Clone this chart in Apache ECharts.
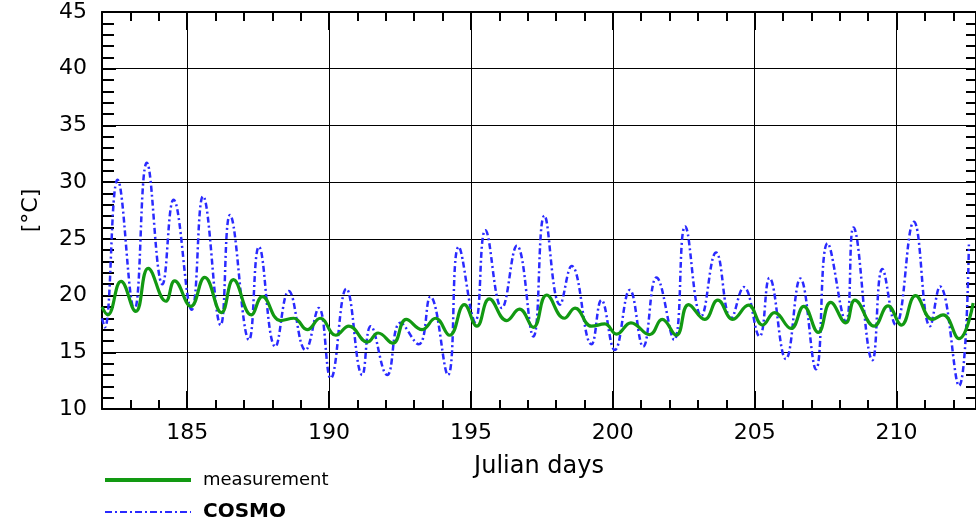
<!DOCTYPE html>
<html>
<head>
<meta charset="utf-8">
<title>measurement vs COSMO</title>
<script src="https://cdn.jsdelivr.net/npm/echarts@6/dist/echarts.min.js"></script>
<style>
  html, body { margin: 0; padding: 0; background: #fff; }
  #chart { width: 976px; height: 528px; }
</style>
</head>
<body>
<div id="chart"></div>
<script>
// measurement (green), read at the daily highs and lows
const measDays = [182.0, 182.2, 182.67, 183.19, 183.63, 184.25, 184.56, 185.13, 185.62, 186.21, 186.63, 187.26, 187.65,
  188.29, 188.76, 189.23, 189.69, 190.24, 190.7, 191.35, 191.73, 192.25, 192.72, 193.28, 193.75, 194.25, 194.77,
  195.21, 195.65, 196.26, 196.71, 197.2, 197.67, 198.29, 198.67, 199.25, 199.72, 200.13, 200.64, 201.3, 201.74,
  202.24, 202.67, 203.24, 203.7, 204.23, 204.78, 205.28, 205.7, 206.28, 206.73, 207.24, 207.68, 208.21, 208.53,
  209.21, 209.7, 210.17, 210.67, 211.26, 211.64, 212.2, 212.7]
const measTemp = [19.0, 18.3, 21.25, 18.6, 22.4, 19.5, 21.3, 19.05, 21.6, 18.5, 21.4, 18.3, 19.9,
  17.8, 18.0, 17.0, 18.0, 16.5, 17.3, 15.9, 16.7, 15.8, 17.9, 17.0, 18.0, 16.5, 19.2,
  17.3, 19.7, 17.8, 18.8, 17.2, 20.05, 18.0, 18.9, 17.3, 17.5, 16.6, 17.6, 16.55, 17.9,
  16.5, 19.2, 17.9, 19.6, 17.9, 19.15, 17.4, 18.5, 17.1, 19.05, 16.75, 19.4, 17.6, 19.6,
  17.3, 19.1, 17.4, 20.0, 17.9, 18.3, 16.2, 19.35]

// COSMO model (blue dash-dot)
const cosmoDays = [182.0, 182.1, 182.55, 183.14, 183.58, 184.13, 184.52, 185.16, 185.56, 186.18, 186.51, 187.18, 187.53,
  188.11, 188.58, 189.17, 189.64, 190.06, 190.61, 191.17, 191.47, 192.05, 192.52, 193.16, 193.57, 194.19, 194.57,
  195.15, 195.51, 196.09, 196.62, 197.2, 197.59, 198.14, 198.55, 199.25, 199.6, 200.07, 200.6, 201.07, 201.54,
  202.16, 202.55, 203.12, 203.64, 204.17, 204.62, 205.17, 205.52, 206.1, 206.61, 207.16, 207.57, 208.21, 208.48,
  209.15, 209.5, 209.97, 210.61, 211.18, 211.53, 212.2, 212.55]
const cosmoTemp = [18.0, 17.2, 30.2, 18.75, 31.7, 21.0, 28.45, 18.75, 28.75, 17.4, 27.1, 16.1, 24.3,
  15.5, 20.4, 15.2, 18.9, 12.7, 20.6, 13.0, 17.3, 13.0, 17.6, 15.7, 19.9, 13.0, 24.3,
  17.7, 25.75, 18.9, 24.4, 16.4, 27.05, 19.2, 22.6, 15.7, 19.6, 15.2, 20.5, 15.5, 21.6,
  16.1, 26.1, 18.2, 23.8, 18.0, 20.75, 16.4, 21.55, 14.4, 21.5, 13.5, 24.6, 17.7, 26.0,
  14.3, 22.35, 17.4, 26.5, 17.3, 20.8, 12.05, 24.5]

const dayMin = 182
const dayMax = 212.8
const tempMin = 10
const tempMax = 45

const font = 'DejaVu Sans, Verdana, sans-serif'
const green = '#129912'
const blue = '#2a2aff'

function pairs(xs, ys) {
  return xs.map((x, i) => [x, ys[i]])
}

// legend icon for the dash-dot line, in icon units (scaled to itemWidth x itemHeight)
function dashDotIcon(total, h) {
  const pieces = [[0, 7], [10, 12]]
  const period = 15
  let d = ''
  for (let x = 0; x < total; x += period) {
    pieces.forEach(p => {
      const a = x + p[0]
      const b = Math.min(x + p[1], total)
      if (a < total) d += 'M' + a + ',0L' + b + ',0L' + b + ',' + h + 'L' + a + ',' + h + 'Z'
    })
  }
  return 'path://' + d
}

// one axis for the long ticks, labels and grid, one for the daily short ticks
function dayAxis(position, major) {
  const axis = {
    type: 'value',
    position: position,
    min: dayMin,
    max: dayMax,
    axisLine: { show: major, onZero: false, lineStyle: { color: '#000', width: 2 } },
    axisTick: { show: true, inside: true, length: major ? 18 : 9, lineStyle: { color: '#000', width: 2 } },
    axisLabel: { show: false },
    splitLine: { show: false }
  }
  if (major) {
    axis.minInterval = 5
    axis.maxInterval = 5
  } else {
    axis.interval = 1
  }
  return axis
}

const xMainBottom = dayAxis('bottom', true)
xMainBottom.axisLabel = {
  show: true, margin: 13, fontSize: 22, color: '#000', fontFamily: font,
  showMinLabel: false, showMaxLabel: false
}
xMainBottom.splitLine = { show: true, lineStyle: { color: '#000', width: 1 } }
xMainBottom.name = 'Julian days'
xMainBottom.nameLocation = 'middle'
xMainBottom.nameGap = 46
xMainBottom.nameTextStyle = { fontSize: 24, color: '#000', fontFamily: font }

function tempAxis(position, left) {
  return {
    type: 'value',
    position: position,
    min: tempMin,
    max: tempMax,
    interval: 5,
    axisLine: { show: true, onZero: false, lineStyle: { color: '#000', width: 2 } },
    axisTick: { show: true, inside: true, length: left ? 14 : 10, lineStyle: { color: '#000', width: 2 } },
    minorTick: { show: true, splitNumber: 5, length: left ? 12 : 10, lineStyle: { color: '#000', width: 2 } },
    axisLabel: { show: left, margin: 15, fontSize: 22, color: '#000', fontFamily: font },
    splitLine: { show: left, lineStyle: { color: '#000', width: 1 } },
    name: left ? '[°C]' : '',
    nameLocation: 'middle',
    nameGap: 60,
    nameTextStyle: { fontSize: 22, color: '#000', fontFamily: font }
  }
}

const chart = echarts.init(document.getElementById('chart'))
const option = {
  animation: false,
  backgroundColor: '#fff',
  grid: { left: 102, top: 12, right: -3, bottom: 119 },
  legend: [
    {
      left: 105,
      top: 471,
      padding: 0,
      selectedMode: false,
      itemWidth: 86,
      itemHeight: 4,
      icon: 'path://M0,0L86,0L86,4L0,4Z',
      textStyle: { fontSize: 18, color: '#000', fontFamily: font, padding: [2, 0, 0, 7] },
      data: ['measurement']
    },
    {
      left: 105,
      top: 502,
      padding: 0,
      selectedMode: false,
      itemWidth: 86,
      itemHeight: 2,
      icon: dashDotIcon(86, 2),
      textStyle: { fontSize: 20, fontWeight: 'bold', color: '#000', fontFamily: font, padding: [3, 0, 0, 7] },
      data: ['COSMO']
    }
  ],
  xAxis: [xMainBottom, dayAxis('top', true), dayAxis('bottom', false), dayAxis('top', false)],
  yAxis: [tempAxis('left', true), tempAxis('right', false)],
  series: [
    {
      name: 'COSMO',
      type: 'line',
      xAxisIndex: 0,
      yAxisIndex: 0,
      symbol: 'none',
      smooth: 0.45,
      lineStyle: { color: blue, width: 2.5, type: [6, 3, 2, 3] },
      itemStyle: { color: blue },
      data: pairs(cosmoDays, cosmoTemp),
      z: 3
    },
    {
      name: 'measurement',
      type: 'line',
      xAxisIndex: 0,
      yAxisIndex: 0,
      symbol: 'none',
      smooth: 0.45,
      lineStyle: { color: green, width: 3.2 },
      itemStyle: { color: green },
      data: pairs(measDays, measTemp),
      z: 4
    }
  ]
}
chart.setOption(option)
</script>
</body>
</html>
